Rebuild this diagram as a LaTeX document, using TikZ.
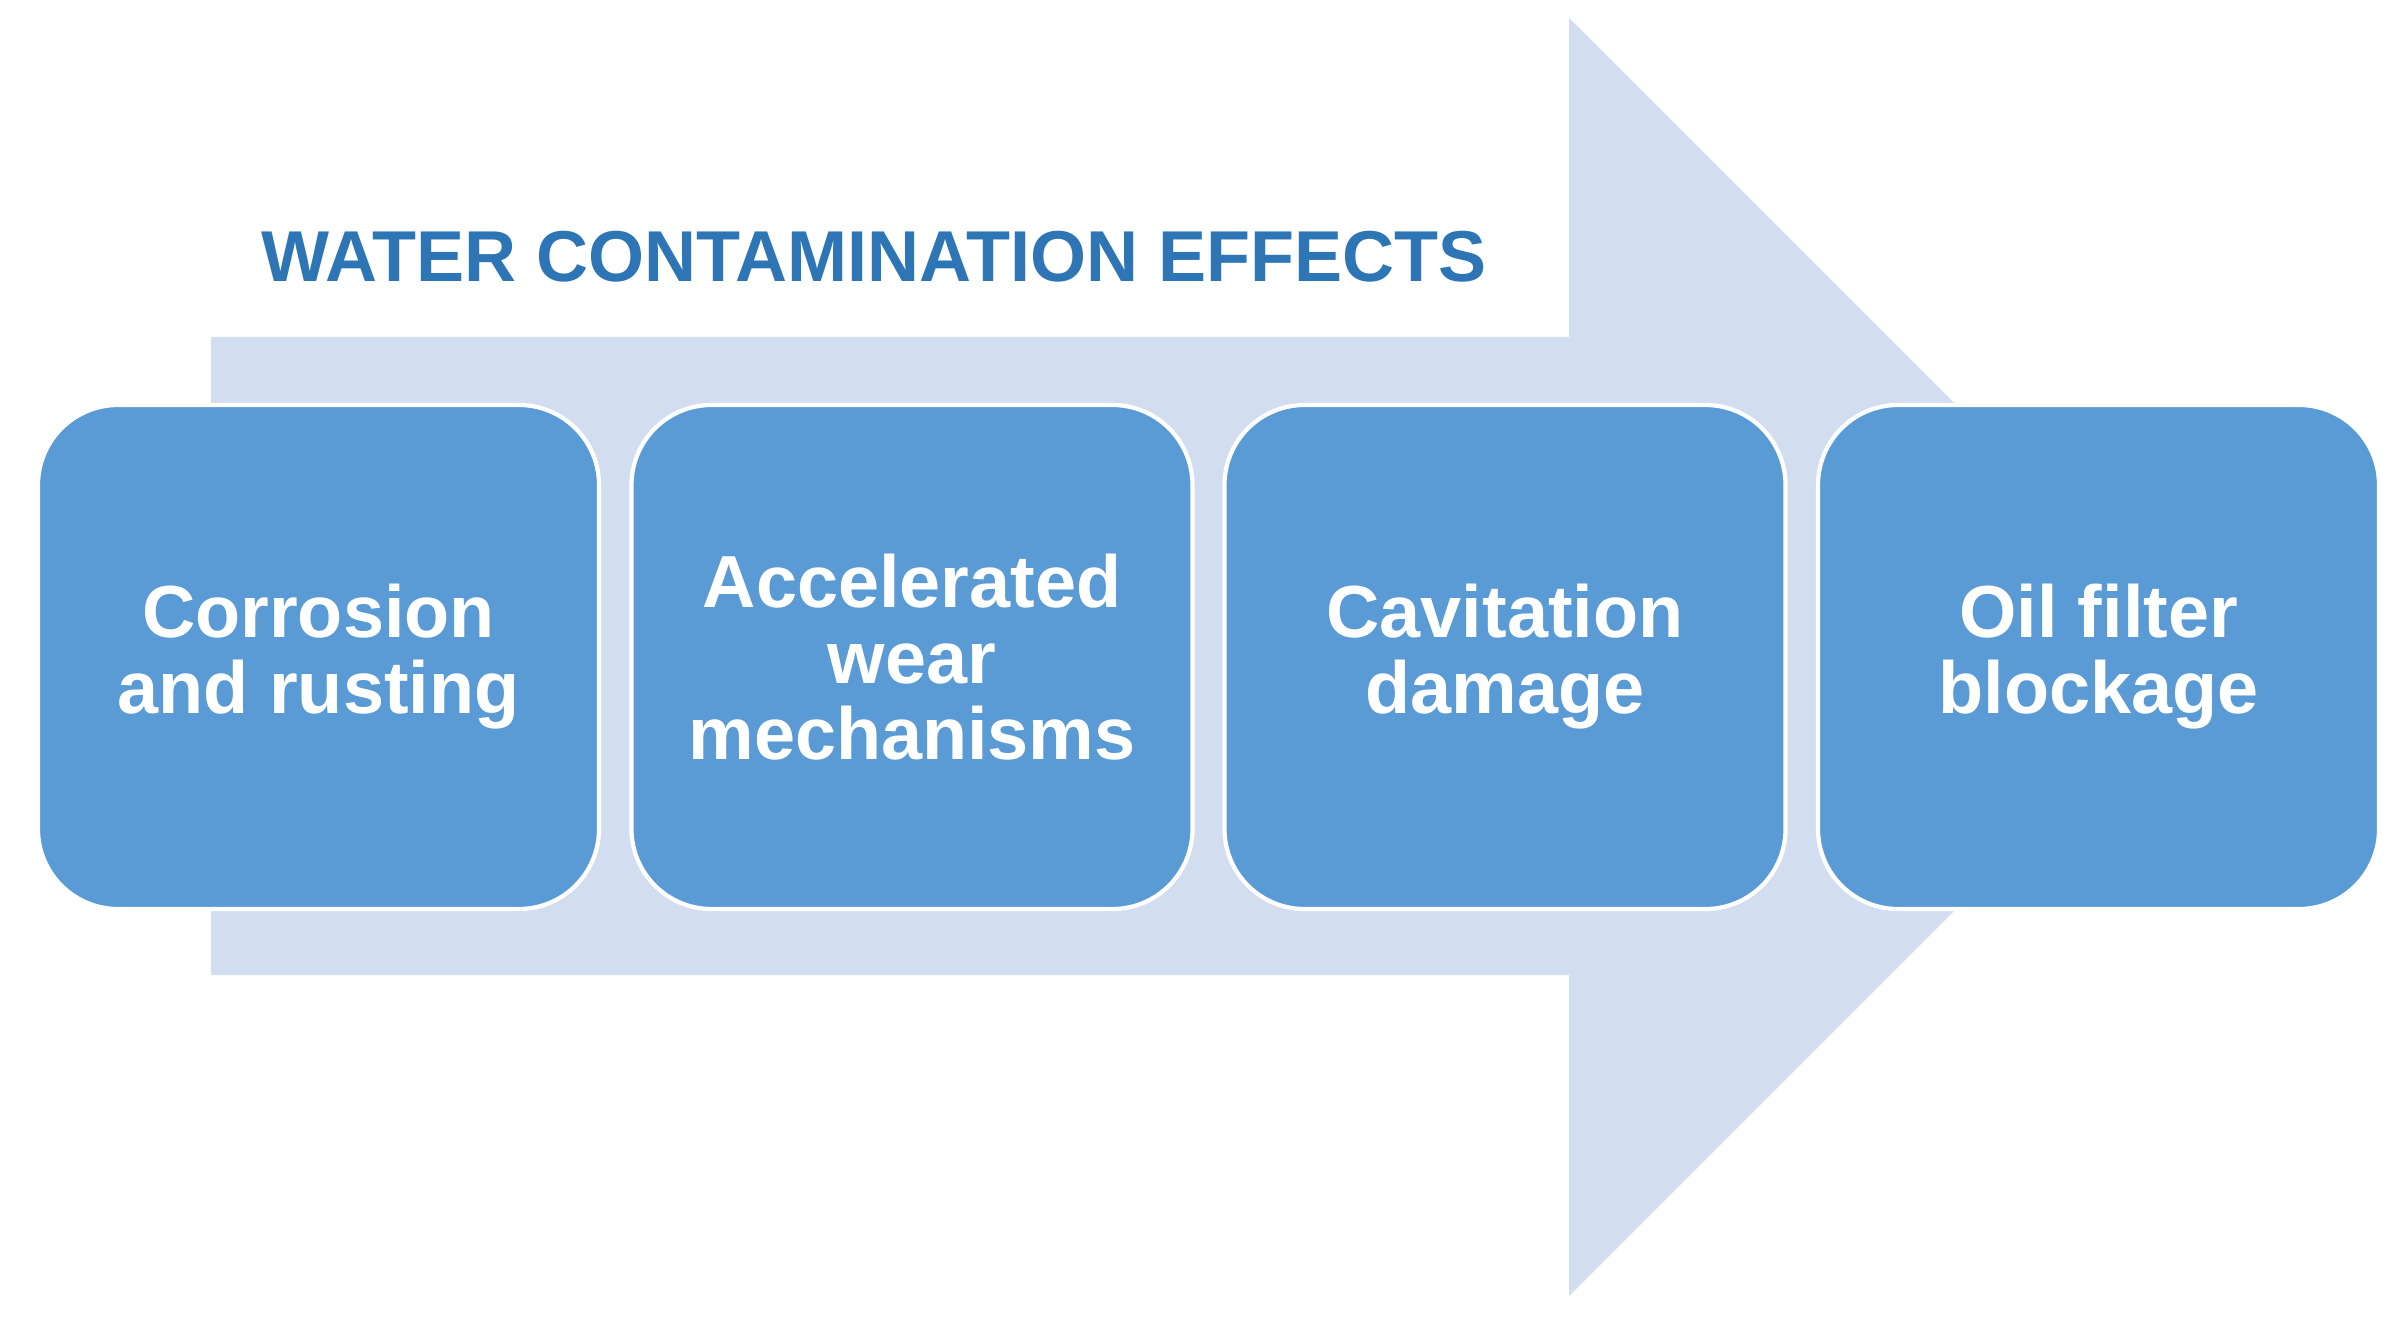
\documentclass[tikz,border=0pt]{standalone}
\usepackage{fontspec}
\setmainfont{Liberation Sans}
\definecolor{boxblue}{HTML}{5B9BD5}
\definecolor{arrowblue}{HTML}{D2DEEF}
\definecolor{titleblue}{HTML}{2E75B6}
\tikzset{
	effect/.style={draw=white, line width=1.2pt, fill=boxblue, text=white,
		rounded corners=0.8cm, minimum width=5.61cm, minimum height=5.04cm,
		align=center, font=\bfseries\fontsize{21}{21.6}\selectfont},
}
\begin{document}
\begin{tikzpicture}
		\useasboundingbox (0,0) rectangle (23.96,-13.23);
		\fill [arrowblue] (2.11,-3.37) -- (15.69,-3.37) -- (15.69,-0.18) -- (22.08,-6.57)
			-- (15.69,-12.96) -- (15.69,-9.75) -- (2.11,-9.75) -- cycle;
		\node (title) [anchor=base west, inner sep=0pt, text=titleblue,
			font=\bfseries\fontsize{20.5}{24}\selectfont] at (2.61,-2.82) {WATER CONTAMINATION EFFECTS};
		\node (e1) [effect] at (3.185,-6.57) {Corrosion\\and rusting};
		\node (e2) [effect] at (9.12,-6.57) {Accelerated\\wear\\mechanisms};
		\node (e3) [effect] at (15.05,-6.57) {Cavitation\\damage};
		\node (e4) [effect] at (20.985,-6.57) {Oil filter\\blockage};
	\end{tikzpicture}
\end{document}
